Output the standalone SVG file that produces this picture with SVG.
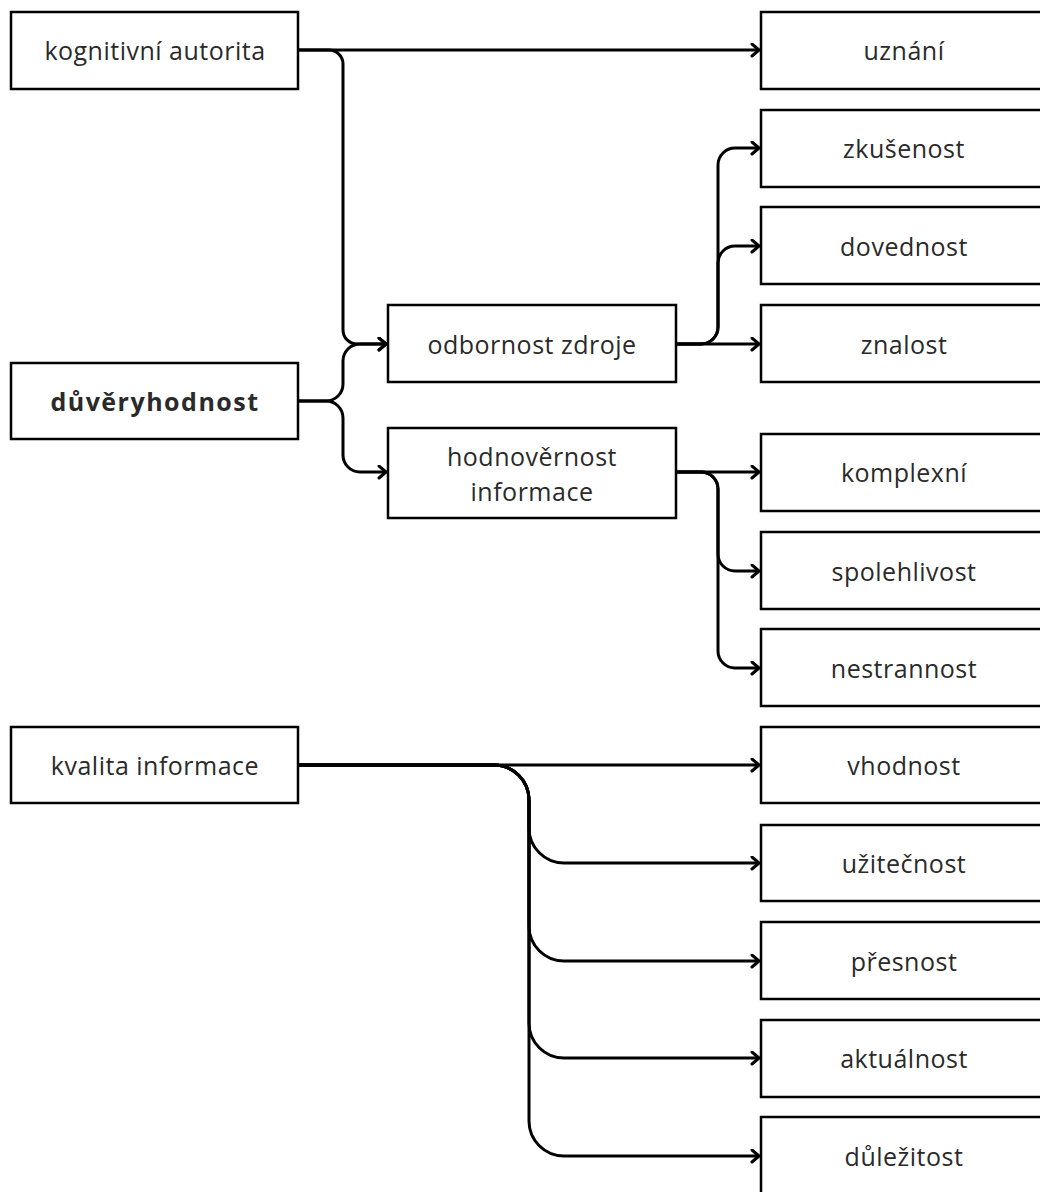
<svg xmlns="http://www.w3.org/2000/svg" width="1040" height="1192" viewBox="0 0 1040 1192">
<style>
.box{fill:#ffffff;stroke:#000000;stroke-width:2.5}
.t{font-family:"Open Sans","Noto Sans",sans-serif;font-size:25px;letter-spacing:0.5px;fill:#2a2a2a;text-anchor:middle;dominant-baseline:central}
.b{font-weight:bold;letter-spacing:1.5px}
.e{fill:none;stroke:#000000;stroke-width:3;marker-end:url(#arr)}
</style>
<defs>
<marker id="arr" markerUnits="userSpaceOnUse" markerWidth="14" markerHeight="16" refX="9" refY="7" orient="auto" viewBox="0 0 14 16">
<path d="M2,1 L9,7 L2,13" fill="none" stroke="#000" stroke-width="3" stroke-linecap="round" stroke-linejoin="round"/>
</marker>
</defs>
<rect width="1040" height="1192" fill="#ffffff"/>
<g id="connectors">
<path class="e" d="M298,50 H759"/>
<path class="e" d="M298,50 H329 A14,14 0 0 1 343,64 V330 A14,14 0 0 0 357,344 H386"/>
<path class="e" d="M298,401 H326 A17,17 0 0 0 343,384 V361 A17,17 0 0 1 360,344 H386"/>
<path class="e" d="M298,401 H326 A17,17 0 0 1 343,418 V455 A17,17 0 0 0 360,472 H386"/>
<path class="e" d="M676,344 H759"/>
<path class="e" d="M676,344 H701 A17,17 0 0 0 718,327 V263 A17,17 0 0 1 735,246 H759"/>
<path class="e" d="M676,344 H701 A17,17 0 0 0 718,327 V165 A17,17 0 0 1 735,148 H759"/>
<path class="e" d="M676,472 H759"/>
<path class="e" d="M676,472 H701 A17,17 0 0 1 718,489 V554 A17,17 0 0 0 735,571 H759"/>
<path class="e" d="M676,472 H701 A17,17 0 0 1 718,489 V651 A17,17 0 0 0 735,668 H759"/>
<path class="e" d="M298,765 H759"/>
<path class="e" d="M298,765 H494 A35,35 0 0 1 529,800 V828 A35,35 0 0 0 564,863 H759"/>
<path class="e" d="M298,765 H494 A35,35 0 0 1 529,800 V926 A35,35 0 0 0 564,961 H759"/>
<path class="e" d="M298,765 H494 A35,35 0 0 1 529,800 V1023 A35,35 0 0 0 564,1058 H759"/>
<path class="e" d="M298,765 H494 A35,35 0 0 1 529,800 V1121 A35,35 0 0 0 564,1156 H759"/>
</g>
<g id="kognitivni-autorita"><rect class="box" x="11" y="12" width="287" height="77"/><text class="t" x="155" y="50">kognitivní autorita</text></g>
<g id="duveryhodnost"><rect class="box" x="11" y="363" width="287" height="76"/><text class="t b" x="155" y="401">důvěryhodnost</text></g>
<g id="kvalita-informace"><rect class="box" x="11" y="727" width="287" height="76"/><text class="t" x="155" y="765">kvalita informace</text></g>
<g id="odbornost-zdroje"><rect class="box" x="388" y="305" width="288" height="77"/><text class="t" x="532" y="344">odbornost zdroje</text></g>
<g id="hodnovernost-informace"><rect class="box" x="388" y="428" width="288" height="90"/><text class="t" x="532" y="456">hodnověrnost</text><text class="t" x="532" y="491">informace</text></g>
<g id="uznani"><rect class="box" x="761" y="12" width="290" height="77"/><text class="t" x="904" y="50">uznání</text></g>
<g id="zkusenost"><rect class="box" x="761" y="110" width="290" height="77"/><text class="t" x="904" y="148">zkušenost</text></g>
<g id="dovednost"><rect class="box" x="761" y="207" width="290" height="77"/><text class="t" x="904" y="246">dovednost</text></g>
<g id="znalost"><rect class="box" x="761" y="305" width="290" height="77"/><text class="t" x="904" y="344">znalost</text></g>
<g id="komplexni"><rect class="box" x="761" y="434" width="290" height="77"/><text class="t" x="904" y="472">komplexní</text></g>
<g id="spolehlivost"><rect class="box" x="761" y="532" width="290" height="77"/><text class="t" x="904" y="571">spolehlivost</text></g>
<g id="nestrannost"><rect class="box" x="761" y="629" width="290" height="77"/><text class="t" x="904" y="668">nestrannost</text></g>
<g id="vhodnost"><rect class="box" x="761" y="727" width="290" height="76"/><text class="t" x="904" y="765">vhodnost</text></g>
<g id="uzitecnost"><rect class="box" x="761" y="825" width="290" height="76"/><text class="t" x="904" y="863">užitečnost</text></g>
<g id="presnost"><rect class="box" x="761" y="922" width="290" height="77"/><text class="t" x="904" y="961">přesnost</text></g>
<g id="aktualnost"><rect class="box" x="761" y="1020" width="290" height="77"/><text class="t" x="904" y="1058">aktuálnost</text></g>
<g id="dulezitost"><rect class="box" x="761" y="1117" width="290" height="90"/><text class="t" x="904" y="1156">důležitost</text></g>
</svg>
